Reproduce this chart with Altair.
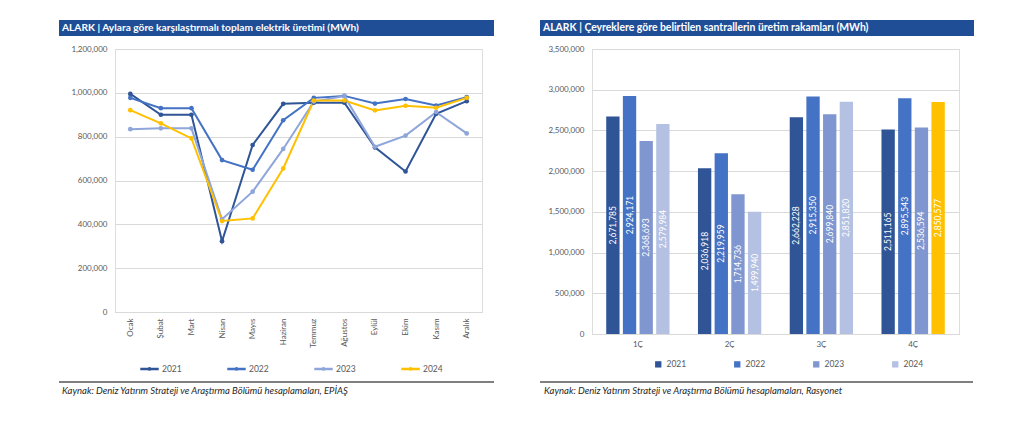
import altair as alt
import pandas as pd

months = ["Ocak", "Şubat", "Mart", "Nisan", "Mayıs", "Haziran", "Temmuz",
          "Ağustos", "Eylül", "Ekim", "Kasım", "Aralık"]
years = ["2021", "2022", "2023", "2024"]
m2021 = [995000, 900000, 900000, 323000, 762000, 950000, 955000, 955000, 751000, 641000, 904000, 962000]
m2022 = [977000, 930000, 930000, 693000, 649000, 875000, 977000, 986000, 951000, 972000, 942000, 980000]
m2023 = [834000, 838000, 838000, 423000, 549000, 744000, 960000, 985000, 754000, 805000, 912000, 815000]
m2024 = [921000, 861000, 792000, 415000, 427000, 655000, 965000, 965000, 920000, 941000, 932000, 977000]

quarters = ["1Ç", "2Ç", "3Ç", "4Ç"]
q2021 = [2671785, 2036918, 2662228, 2511165]
q2022 = [2924171, 2219959, 2915350, 2895543]
q2023 = [2368693, 1714736, 2699840, 2536594]
q2024 = [2579984, 1499940, 2851820, 2850577]

title_left = "ALARK | Aylara göre karşılaştırmalı toplam elektrik üretimi (MWh)"
title_right = "ALARK | Çeyreklere göre belirtilen santrallerin üretim rakamları (MWh)"
src_left = "Kaynak: Deniz Yatırım Strateji ve Araştırma Bölümü hesaplamaları, EPİAŞ"
src_right = "Kaynak: Deniz Yatırım Strateji ve Araştırma Bölümü hesaplamaları, Rasyonet"

FONT = "Lato"
BLUE_BAR = "#1F4E97"
line_colors = ["#2F5597", "#4472C4", "#8FA6DA", "#FFC000"]
bar_colors = ["#2F5597", "#4472C4", "#7F96D0", "#B4C1E2"]

monthly = pd.DataFrame(
    [{"ay": m, "yil": y, "deger": v}
     for y, vals in zip(years, [m2021, m2022, m2023, m2024])
     for m, v in zip(months, vals)]
)
quarterly = pd.DataFrame(
    [{"ceyrek": q, "yil": y, "deger": v}
     for y, vals in zip(years, [q2021, q2022, q2023, q2024])
     for q, v in zip(quarters, vals)]
)


def decorations(title, source, x1, x2, fs):
    t = pd.DataFrame({"t": [title]})
    s = pd.DataFrame({"t": [source]})
    rect = alt.Chart(t).mark_rect(color=BLUE_BAR).encode(
        x=alt.value(x1), x2=alt.value(x2), y=alt.value(-29), y2=alt.value(-13))
    ttext = alt.Chart(t).mark_text(
        align="left", baseline="middle", color="white", font=FONT,
        fontWeight="bold", fontSize=fs).encode(
        x=alt.value(x1 + 3), y=alt.value(-21), text="t:N")
    return rect, ttext, s


# ---------- left: line chart ----------
LW, LH = 367, 263
rect_l, ttext_l, s_l = decorations(title_left, src_left, -56, 379, 10.2)
sep_l = alt.Chart(s_l).mark_rule(color="#808080", strokeWidth=2).encode(
    x=alt.value(-56), x2=alt.value(379), y=alt.value(333))
stext_l = alt.Chart(s_l).mark_text(
    align="left", baseline="middle", font=FONT, fontStyle="italic",
    fontSize=9.5, color="#262626").encode(x=alt.value(-53), y=alt.value(342), text="t:N")

line_symbol = "M-1,0H1M0.08,0A0.08,0.08,0,1,1,-0.08,0A0.08,0.08,0,1,1,0.08,0Z"

lines = alt.Chart(monthly).mark_line(
    strokeWidth=2, point=alt.OverlayMarkDef(filled=True, size=22)).encode(
    x=alt.X("ay:N", sort=months, title=None,
            scale=alt.Scale(type="point", padding=0.5),
            axis=alt.Axis(labelAngle=270, ticks=False, grid=False, domainColor="#D9D9D9",
                          labelColor="#595959", labelFontSize=8, labelFont=FONT, labelPadding=6)),
    y=alt.Y("deger:Q", title=None, scale=alt.Scale(domain=[0, 1200000], nice=False),
            axis=alt.Axis(values=list(range(0, 1200001, 200000)), format=",.0f",
                          domain=False, ticks=False, gridColor="#D9D9D9",
                          labelColor="#595959", labelFontSize=8, labelFont=FONT, labelPadding=8)),
    color=alt.Color("yil:N", scale=alt.Scale(domain=years, range=line_colors),
                    legend=alt.Legend(title=None, orient="none", legendX=24, legendY=309,
                                      direction="horizontal", columns=4, columnPadding=40,
                                      symbolType=line_symbol, symbolStrokeWidth=2.5, symbolSize=340,
                                      labelOffset=2,
                                      labelFont=FONT, labelFontSize=8.5, labelColor="#595959")),
)
left = alt.layer(rect_l, ttext_l, lines, sep_l, stext_l).properties(width=LW, height=LH)

# ---------- right: bar chart ----------
RW, RH = 367, 285
rect_r, ttext_r, s_r = decorations(title_right, src_right, -52, 382, 10.4)
sep_r = alt.Chart(s_r).mark_rule(color="#808080", strokeWidth=2).encode(
    x=alt.value(-52), x2=alt.value(381), y=alt.value(333))
stext_r = alt.Chart(s_r).mark_text(
    align="left", baseline="middle", font=FONT, fontStyle="italic",
    fontSize=9.5, color="#262626").encode(x=alt.value(-48), y=alt.value(342), text="t:N")

xq = alt.X("ceyrek:N", sort=quarters, title=None,
           scale=alt.Scale(paddingInner=0.31, paddingOuter=0.155),
           axis=alt.Axis(labelAngle=0, ticks=False, grid=False, domainColor="#D9D9D9",
                         labelColor="#595959", labelFontSize=8, labelFont=FONT, labelPadding=6))
xo = alt.XOffset("yil:N", sort=years, scale=alt.Scale(paddingInner=0.2, paddingOuter=0))

bars = alt.Chart(quarterly).mark_bar().encode(
    x=xq, xOffset=xo,
    y=alt.Y("deger:Q", title=None, scale=alt.Scale(domain=[0, 3500000], nice=False),
            axis=alt.Axis(values=list(range(0, 3500001, 500000)), format=",.0f",
                          domain=False, ticks=False, gridColor="#D9D9D9",
                          labelColor="#595959", labelFontSize=8, labelFont=FONT, labelPadding=8)),
    color=alt.condition(
        (alt.datum.ceyrek == "4Ç") & (alt.datum.yil == "2024"),
        alt.value("#FFC000"),
        alt.Color("yil:N", scale=alt.Scale(domain=years, range=bar_colors),
                  legend=alt.Legend(title=None, orient="none", legendX=62, legendY=311,
                                    direction="horizontal", columns=4, columnPadding=46,
                                    symbolType="square", symbolSize=40,
                                    labelFont=FONT, labelFontSize=8.5, labelColor="#595959"))),
)
labels = alt.Chart(quarterly).transform_calculate(mid="datum.deger / 2").mark_text(
    angle=270, color="white", fontSize=8.5, font=FONT, align="center", baseline="middle").encode(
    x=xq, xOffset=xo, y=alt.Y("mid:Q"), text=alt.Text("deger:Q", format=",.0f"))

right = alt.layer(rect_r, ttext_r, bars, labels, sep_r, stext_r).properties(width=RW, height=RH)

chart = alt.hconcat(left, right, spacing=110, bounds="flush").resolve_scale(
    color="independent").properties(
    padding={"left": 49, "top": 11, "right": 5, "bottom": 5}
).configure_view(stroke=None).configure(font=FONT)

chart.save("out.html", embed_options={"renderer": "svg", "actions": False})
